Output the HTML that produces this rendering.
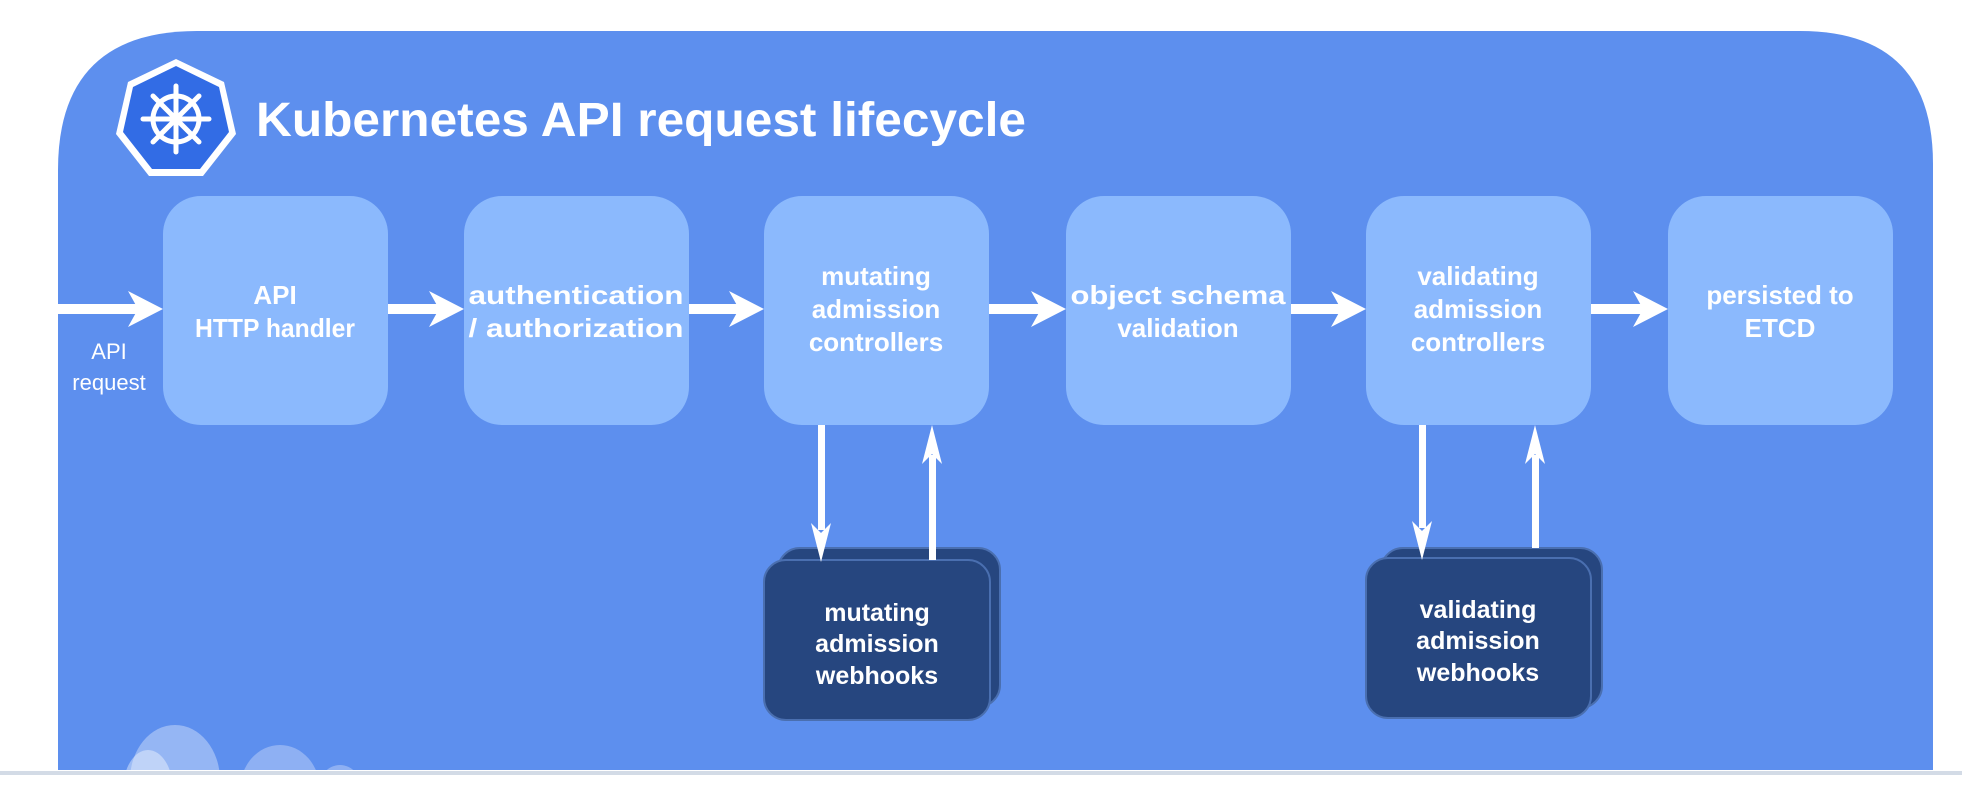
<!DOCTYPE html>
<html><head><meta charset="utf-8"><style>
html,body{margin:0;padding:0;background:#fff;width:1962px;height:790px;overflow:hidden}
svg{display:block}
text{font-family:"Liberation Sans",sans-serif;fill:#fff}
</style></head><body>
<svg width="1962" height="790" viewBox="0 0 1962 790" xmlns="http://www.w3.org/2000/svg">
<path d="M58,770 L58,170 Q58,31 197,31 L1800,31 Q1933,31 1933,164 L1933,770 Z" fill="#5d8fee"/>
<ellipse cx="175" cy="780" rx="45" ry="55" fill="#fff" opacity="0.35"/>
<ellipse cx="148" cy="790" rx="25" ry="40" fill="#fff" opacity="0.4"/>
<ellipse cx="280" cy="790" rx="40" ry="45" fill="#fff" opacity="0.3"/>
<ellipse cx="340" cy="790" rx="22" ry="25" fill="#fff" opacity="0.3"/>
<rect x="0" y="771" width="1962" height="4" fill="#d3dbe6"/>
<rect x="0" y="775" width="1962" height="15" fill="#fff"/>
<!-- logo -->
<polygon points="176,59 224,82 236,134 203,176 149,176 116,134 128,82" fill="#fff"/>
<polygon points="176,66 219,87 229,132 200,169 152,169 123,132 133,87" fill="#326ce5"/>
<g stroke="#fff" stroke-width="5" fill="none" stroke-linecap="round">
<circle cx="176" cy="119" r="23"/>
<line x1="176" y1="86" x2="176" y2="152"/><line x1="143" y1="119" x2="209" y2="119"/>
<line x1="153" y1="96" x2="199" y2="142"/><line x1="199" y1="96" x2="153" y2="142"/>
</g>
<circle cx="176" cy="119" r="6" fill="#fff"/>
<text x="256" y="136" font-size="48" font-weight="bold" textLength="770" lengthAdjust="spacingAndGlyphs">Kubernetes API request lifecycle</text>
<!-- boxes -->
<g fill="#8bb9fd">
<rect x="163" y="196" width="225" height="229" rx="38"/>
<rect x="464" y="196" width="225" height="229" rx="38"/>
<rect x="764" y="196" width="225" height="229" rx="38"/>
<rect x="1066" y="196" width="225" height="229" rx="38"/>
<rect x="1366" y="196" width="225" height="229" rx="38"/>
<rect x="1668" y="196" width="225" height="229" rx="38"/>
</g>
<!-- horizontal arrows -->
<g fill="#fff">
<rect x="58" y="304" width="80" height="10"/><polygon points="163,309 128,291 138,309 128,327"/>
<rect x="388" y="304" width="55" height="10"/><polygon points="464,309 429,291 439,309 429,327"/>
<rect x="689" y="304" width="55" height="10"/><polygon points="764,309 729,291 739,309 729,327"/>
<rect x="989" y="304" width="55" height="10"/><polygon points="1066,309 1031,291 1041,309 1031,327"/>
<rect x="1291" y="304" width="55" height="10"/><polygon points="1366,309 1331,291 1341,309 1331,327"/>
<rect x="1591" y="304" width="55" height="10"/><polygon points="1668,309 1633,291 1643,309 1633,327"/>
</g>
<text x="109" y="359" font-size="22" text-anchor="middle">API</text>
<text x="109" y="390" font-size="22" text-anchor="middle">request</text>
<g font-size="26" font-weight="bold" text-anchor="middle">
<text x="275" y="304">API</text><text x="275" y="337" textLength="160" lengthAdjust="spacingAndGlyphs">HTTP handler</text>
<text x="576" y="304" textLength="215" lengthAdjust="spacingAndGlyphs">authentication</text><text x="576" y="337" textLength="215" lengthAdjust="spacingAndGlyphs">/ authorization</text>
<text x="876" y="285">mutating</text><text x="876" y="318">admission</text><text x="876" y="351">controllers</text>
<text x="1178" y="304" textLength="215" lengthAdjust="spacingAndGlyphs">object schema</text><text x="1178" y="337">validation</text>
<text x="1478" y="285">validating</text><text x="1478" y="318">admission</text><text x="1478" y="351">controllers</text>
<text x="1780" y="304">persisted to</text><text x="1780" y="337">ETCD</text>
</g>
<!-- webhooks -->
<g fill="#26467f" stroke="#4a6fb0" stroke-width="2">
<rect x="778" y="548" width="222" height="159" rx="22"/>
<rect x="764" y="560" width="226" height="160" rx="22"/>
<rect x="1381" y="548" width="221" height="160" rx="22"/>
<rect x="1366" y="558" width="225" height="160" rx="22"/>
</g>
<g fill="#fff">
<rect x="818" y="425" width="7" height="105"/><polygon points="821,562 811,523 821,533 831,523"/>
<rect x="929" y="455" width="7" height="105"/><polygon points="932,425 922,464 932,454 942,464"/>
<rect x="1419" y="425" width="7" height="103"/><polygon points="1422,560 1412,521 1422,531 1432,521"/>
<rect x="1532" y="455" width="7" height="93"/><polygon points="1535,425 1525,464 1535,454 1545,464"/>
</g>
<g font-size="25" font-weight="bold" text-anchor="middle">
<text x="877" y="621">mutating</text><text x="877" y="652">admission</text><text x="877" y="684">webhooks</text>
<text x="1478" y="618">validating</text><text x="1478" y="649">admission</text><text x="1478" y="681">webhooks</text>
</g>
</svg>
</body></html>
